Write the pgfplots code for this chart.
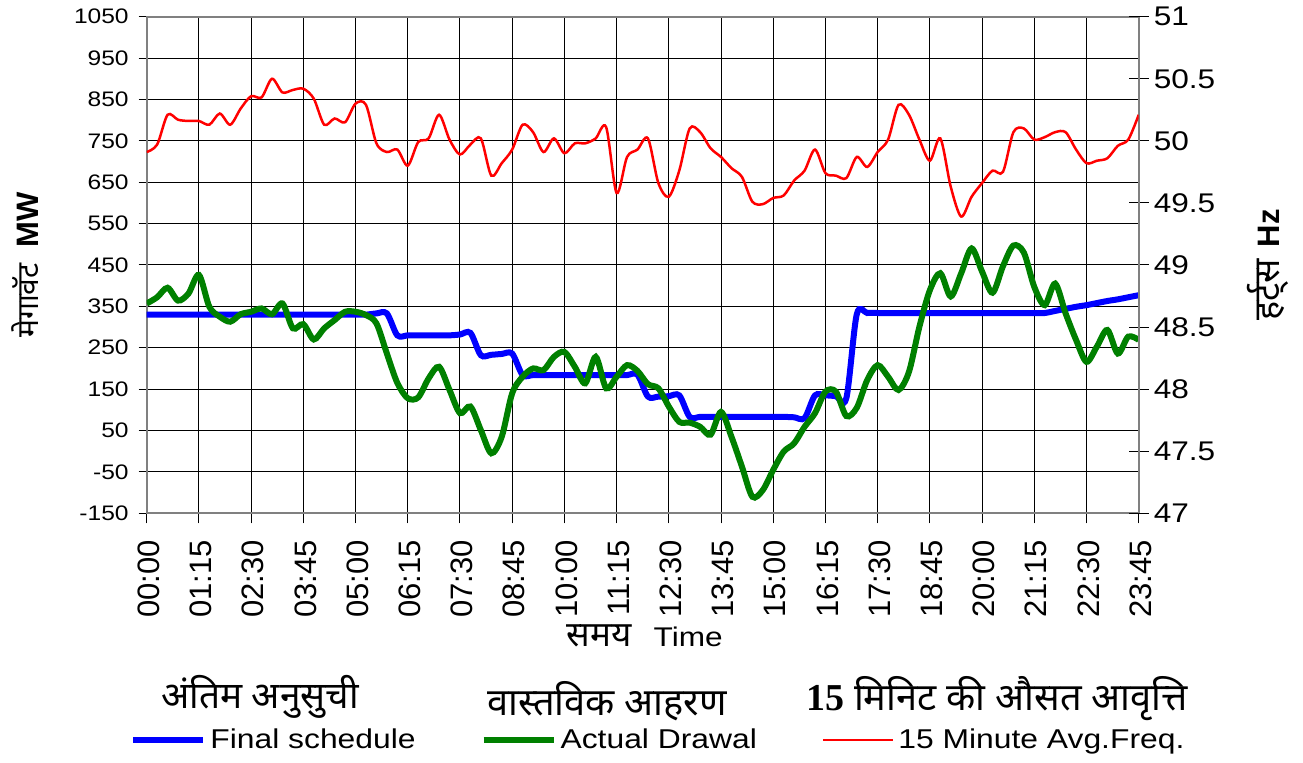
\documentclass[border=0pt]{standalone}
\usepackage{fontspec}
\setmainfont{Liberation Sans}[FakeStretch=1.17]
\newfontfamily\plainsans{Liberation Sans}
\newfontfamily\hindi[Script=Devanagari]{Noto Sans}
\newfontfamily\serifb{Liberation Serif}
\usepackage{pgfplots}
\usepackage{pgfplotstable}
\pgfplotsset{compat=1.18}

\pgfplotstableread{
i sched drawal
0 330 357
1 330 372
2 330 395
3 330 364
4 330 381
5 330 426
6 330 349
7 330 325
8 330 313
9 330 331
10 330 337
11 330 345
12 330 331
13 330 357
14 330 297
15 330 307
16 330 270
17 330 297
18 330 317
19 330 337
20 330 337
21 330 329
22 333 309
23 333 236
24 280 165
25 280 128
26 280 130
27 280 176
28 280 204
29 280 148
30 282 92
31 286 108
32 232 51
33 233 -5
34 235 35
35 236 140
36 184 180
37 184 200
38 184 196
39 184 228
40 184 240
41 184 204
42 184 164
43 184 228
44 184 152
45 184 180
46 184 208
47 185 194
48 132 162
49 132 152
50 133 108
51 135 71
52 83 69
53 83 59
54 83 40
55 83 95
56 83 35
57 83 -37
58 83 -110
59 83 -94
60 83 -45
61 83 -1
62 82 19
63 80 59
64 135 92
65 135 144
66 133 144
67 128 85
68 331 105
69 334 172
70 334 208
71 334 180
72 334 148
73 334 192
74 334 301
75 334 389
76 334 430
77 334 374
78 334 430
79 334 490
80 334 434
81 334 383
82 334 447
83 334 497
84 334 480
85 334 397
86 334 353
87 339 405
88 344 333
89 349 269
90 353 216
91 358 253
92 363 293
93 367 236
94 372 277
95 377 269
}\mwdata

\pgfplotstableread{
i freq
0 49.91
1 49.97
2 50.21
3 50.17
4 50.16
5 50.16
6 50.13
7 50.22
8 50.13
9 50.26
10 50.36
11 50.35
12 50.50
13 50.39
14 50.41
15 50.42
16 50.34
17 50.13
18 50.18
19 50.15
20 50.30
21 50.29
22 49.98
23 49.91
24 49.93
25 49.80
26 49.99
27 50.02
28 50.21
29 50.01
30 49.89
31 49.97
32 50.02
33 49.72
34 49.82
35 49.93
36 50.13
37 50.07
38 49.91
39 50.02
40 49.90
41 49.98
42 49.98
43 50.02
44 50.11
45 49.58
46 49.87
47 49.93
48 50.02
49 49.66
50 49.55
51 49.76
52 50.10
53 50.07
54 49.94
55 49.87
56 49.78
57 49.71
58 49.51
59 49.49
60 49.54
61 49.56
62 49.68
63 49.76
64 49.93
65 49.74
66 49.72
67 49.70
68 49.87
69 49.79
70 49.91
71 50.01
72 50.29
73 50.21
74 50.01
75 49.84
76 50.02
77 49.63
78 49.39
79 49.55
80 49.66
81 49.76
82 49.75
83 50.07
84 50.10
85 50.01
86 50.03
87 50.07
88 50.07
89 49.93
90 49.82
91 49.84
92 49.86
93 49.96
94 50.01
95 50.21
}\freqdata

\definecolor{schedblue}{RGB}{0,0,255}
\definecolor{drawgreen}{RGB}{0,128,0}
\definecolor{freqred}{RGB}{255,0,0}

\begin{document}
\begin{tikzpicture}
\path[use as bounding box] (0,0) rectangle (651.5bp,381.5bp);

\begin{axis}[
  at={(73.35bp,124.85bp)}, anchor=south west,
  scale only axis, width=496bp, height=248.3bp,
  xmin=0, xmax=95, ymin=-150, ymax=1050,
  xtick={0,5,...,95},
  xticklabels={00:00,01:15,02:30,03:45,05:00,06:15,07:30,08:45,10:00,11:15,12:30,13:45,15:00,16:15,17:30,18:45,20:00,21:15,22:30,23:45},
  ytick={-150,-50,...,1050},
  xtick pos=bottom, ytick pos=left,
  tick align=outside, major tick length=10bp,
  xtick style={black, line width=0.5bp, yshift=5bp},
  ytick style={black, line width=0.5bp, xshift=6bp},
  grid=major, major grid style={black, line width=0.5bp},
  axis line style={gray, line width=1bp},
  /pgf/number format/assume math mode=true,
  /pgf/number format/1000 sep={},
  yticklabel style={font=\fontsize{10.5bp}{12bp}\selectfont, xshift=4.5bp},
  xticklabel style={font=\plainsans\fontsize{15.5bp}{18bp}\selectfont, rotate=90, anchor=east, yshift=-1bp},
  xlabel={{\hindi\fontsize{17.5bp}{20bp}\selectfont समय}\hspace{11bp}{\fontsize{13.5bp}{15bp}\selectfont Time}},
  xlabel style={at={(axis description cs:0.502,-0.247)}, anchor=center},
  ylabel={{\hindi\fontsize{15bp}{18bp}\selectfont मेगावॅट}\hspace{8bp}{\plainsans\bfseries\fontsize{15.5bp}{18bp}\selectfont MW}},
  ylabel style={at={(axis description cs:-0.1227,0.5)}, anchor=center, rotate=0},
]
\addplot[schedblue, line width=3bp, smooth, tension=0.5] table[x=i, y=sched] {\mwdata};
\addplot[drawgreen, line width=3bp, smooth, tension=0.5] table[x=i, y=drawal] {\mwdata};
\end{axis}

\begin{axis}[
  at={(73.35bp,124.85bp)}, anchor=south west,
  scale only axis, width=496bp, height=248.3bp,
  xmin=0, xmax=95, ymin=47, ymax=51,
  axis y line*=right, axis x line=none,
  ytick={47,47.5,...,51},
  tick align=center, major tick length=10bp,
  tick style={black, line width=0.5bp},
  axis line style={gray, line width=1bp},
  /pgf/number format/assume math mode=true,
  yticklabel style={font=\fontsize{13.5bp}{16bp}\selectfont, xshift=-1bp},
  ylabel={{\hindi\fontsize{18bp}{20bp}\selectfont हर्ट्स}\hspace{6bp}{\plainsans\bfseries\fontsize{15.5bp}{18bp}\selectfont Hz}},
  ylabel style={at={(axis description cs:1.130,0.5)}, anchor=center, rotate=0},
  legend columns=3,
  legend image code/.code={\draw[#1] (0bp,0bp) -- (35bp,0bp);},
  legend style={
    at={(axis description cs:-0.0168,-0.4565)}, anchor=west,
    draw=none, fill=none, inner sep=0pt,
    font=\fontsize{13.6bp}{15bp}\selectfont,
    /tikz/every even column/.append style={column sep=30.5bp},
  },
  legend cell align=left,
]
\addlegendimage{schedblue, line width=3bp}
\addlegendentry{Final schedule}
\addlegendimage{drawgreen, line width=3bp}
\addlegendentry{Actual Drawal}
\addplot[freqred, line width=1.25bp, smooth, tension=0.5] table[x=i, y=freq] {\freqdata};
\addlegendentry{15 Minute Avg.Freq.}
\end{axis}

\node[font=\hindi\fontsize{18.5bp}{20bp}\selectfont] at (130bp,33bp) {अंतिम अनुसुची};
\node[font=\hindi\fontsize{19bp}{20bp}\selectfont] at (303.5bp,31bp) {वास्तविक आहरण};
\node[font=\hindi\fontsize{19bp}{20bp}\selectfont] at (498.5bp,32bp) {{\serifb\bfseries 15} मिनिट की औसत आवृत्ति};
\end{tikzpicture}
\end{document}
